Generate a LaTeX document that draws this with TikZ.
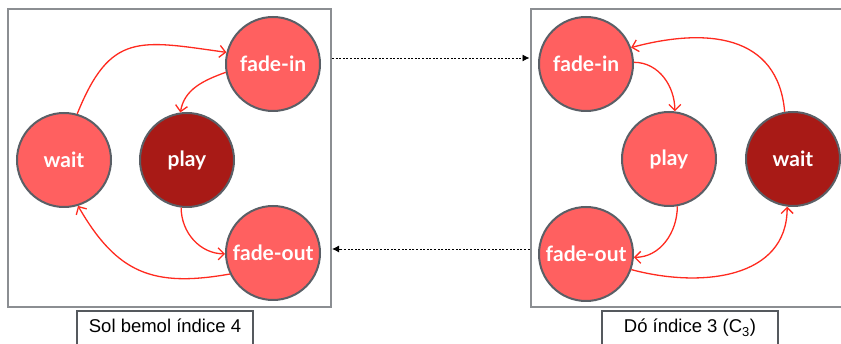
\documentclass[tikz,border=0pt]{standalone}
\usepackage{fontspec}
\setmainfont{Liberation Sans}
\newfontfamily\statefont{Lato}
\usetikzlibrary{arrows.meta,positioning}
\definecolor{statelight}{HTML}{FF6060}
\definecolor{statedark}{HTML}{A81A16}
\definecolor{rimgray}{HTML}{5A5F66}
\definecolor{edgered}{HTML}{FF2A1F}
\definecolor{framegray}{HTML}{8B8E92}
\definecolor{taggray}{HTML}{55595E}
\tikzset{
    %Define style for states
    state/.style={
           circle,
           draw=rimgray, line width=2pt,
           minimum size=94pt,
           inner sep=0pt,
           font=\statefont\bfseries\fontsize{21}{24}\selectfont,
           text=white,
           fill=statelight},
    active/.style={
           state,
           fill=statedark},
    % Define arrow style
    move/.style={
           -{Straight Barb[length=6pt,width=12pt]},
           color=edgered,
           line width=1.3pt},
    jump/.style={
           -{Latex[length=7pt,width=7pt]},
           dash pattern=on 2pt off 1.6pt,
           line width=0.9pt},
    %Define style for frames
    panel/.style={
           rectangle,
           draw=framegray, line width=2pt,
           minimum height=298pt},
    tag/.style={
           rectangle,
           draw=taggray, line width=1.6pt,
           font=\fontsize{18.5}{20}\selectfont,
           minimum width=176pt,
           text height=22pt, text depth=19pt, inner ysep=0pt}
}

\begin{document}
\begin{tikzpicture}[x=1pt,y=1pt,node distance=1pt,on grid]
\useasboundingbox (0,0) rectangle (841,344);
\node[panel, minimum width=323.5pt] (panelL) at (169.25,185.6) {};
\node[panel, minimum width=340pt] (panelR) at (700.5,185.6) {};
\node[tag, anchor=base] (tagL) at (165,11) {Sol bemol índice 4};
\node[tag, anchor=base] (tagR) at (690,11) {Dó índice 3 (C\textsubscript{3})};
% Sol bemol
\node[state] (waitL) at (64,184) {wait};
\node[active, right=123pt of waitL] (playL) {play};
\node[state, above right=96pt and 86pt of playL] (fadeinL) {fade-in};
\node[state, below right=93pt and 86pt of playL] (fadeoutL) {fade-out};
\path[move]
    (waitL.74) edge[out=68, in=172, looseness=1.4] (fadeinL.166)
    (fadeinL.190) edge[out=200, in=80] (playL.98)
    (playL.263) edge[out=270, in=180] (fadeoutL.181)
    (fadeoutL.206) edge[out=190, in=300, looseness=1.2] (waitL.287);
% Do
\node[state] (fadeinR) at (586,280) {fade-in};
\node[state, below=190pt of fadeinR] (fadeoutR) {fade-out};
\node[state, below right=95pt and 83pt of fadeinR] (playR) {play};
\node[active, right=124pt of playR] (waitR) {wait};
\path[move]
    (waitR.100) edge[out=95, in=15, looseness=1.2] (fadeinR.20)
    (fadeinR.2) edge[out=0, in=90] (playR.83)
    (playR.280) edge[out=270, in=0] (fadeoutR.356)
    (fadeoutR.341) edge[out=345, in=270, looseness=1.1] (waitR.263);
% jumps between the two
\draw[jump] ([yshift=6pt]fadeinL.east -| panelL.east) -- ([yshift=6pt]fadeinL.east -| panelR.west);
\draw[jump] ([yshift=5pt]fadeoutR.west -| panelR.west) -- ([yshift=5pt]fadeoutR.west -| panelL.east);
\end{tikzpicture}
\end{document}
